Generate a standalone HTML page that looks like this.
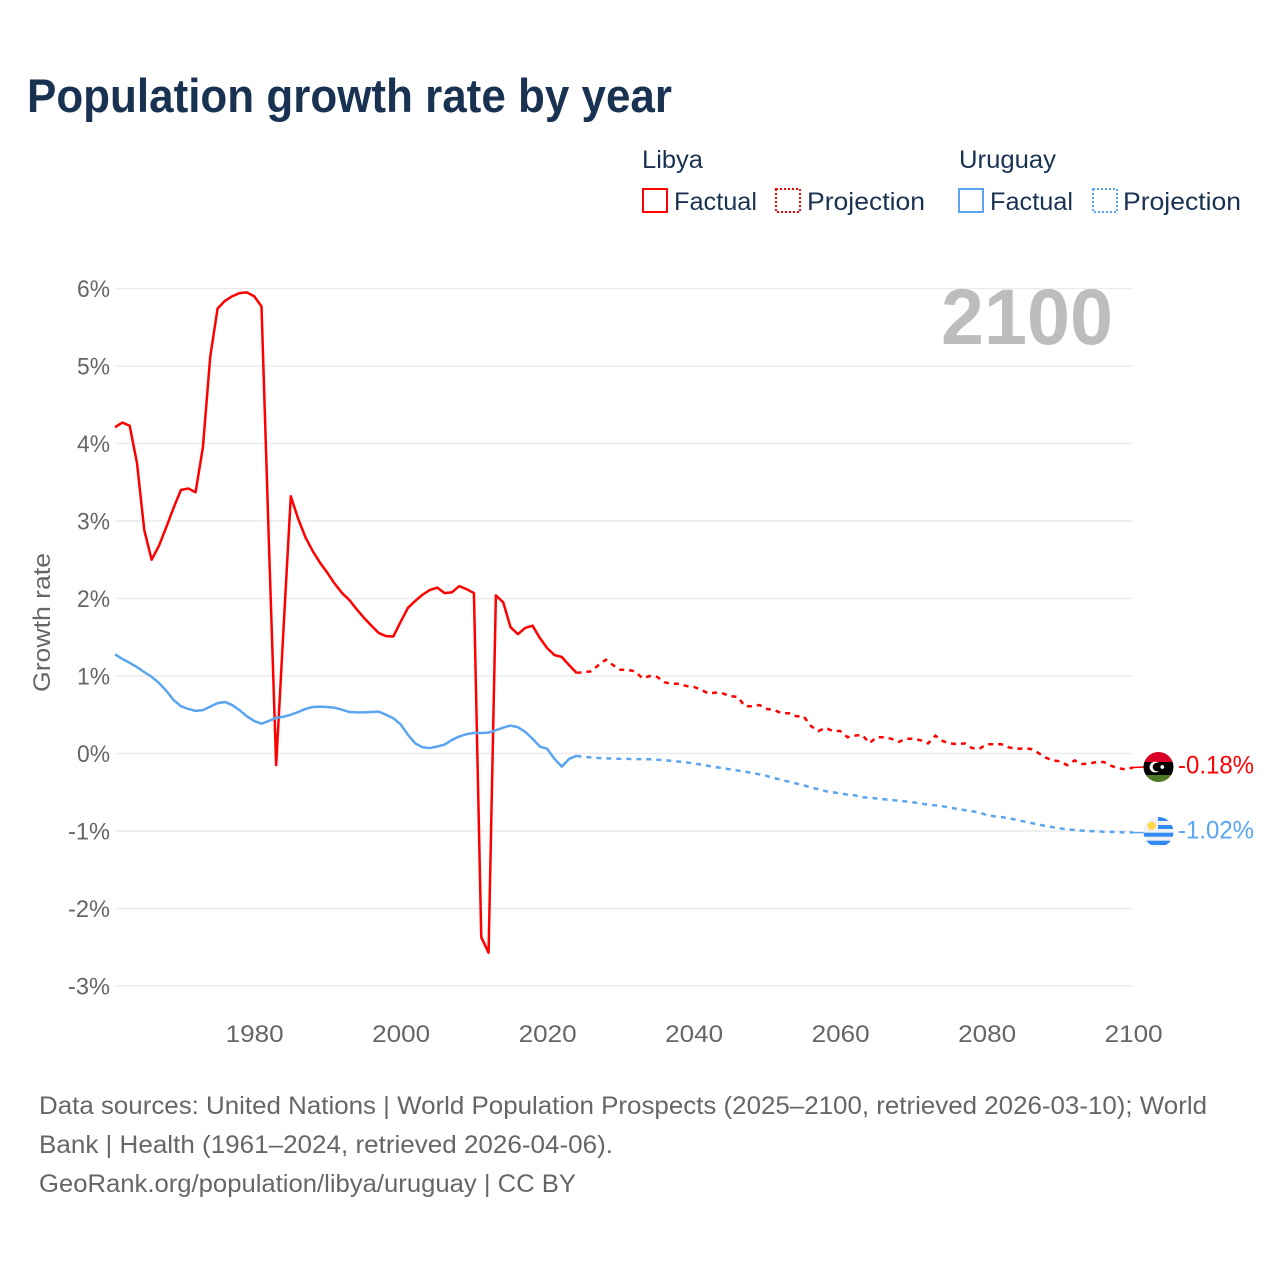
<!DOCTYPE html>
<html lang="en">
<head>
<meta charset="utf-8">
<title>Population growth rate by year</title>
<style>
html,body{margin:0;padding:0;background:#fff;}
svg{display:block;font-family:"Liberation Sans",sans-serif;}
</style>
</head>
<body>
<svg id="chart" xmlns="http://www.w3.org/2000/svg" width="1280" height="1280" viewBox="0 0 1280 1280">
  <rect x="0" y="0" width="1280" height="1280" fill="#ffffff"/>
  <text x="27" y="112" font-size="47" font-weight="700" fill="#1a3252" textLength="645" lengthAdjust="spacingAndGlyphs">Population growth rate by year</text>

  <g font-size="25" fill="#1a3252">
    <text x="642" y="168" textLength="61" lengthAdjust="spacingAndGlyphs">Libya</text>
    <rect x="643" y="189" width="24" height="23" fill="none" stroke="#ff0000" stroke-width="2"/>
    <text x="674" y="210" textLength="83" lengthAdjust="spacingAndGlyphs">Factual</text>
    <rect x="776" y="189" width="24" height="23" fill="none" stroke="#ff0000" stroke-width="2" stroke-dasharray="2 2"/>
    <text x="807" y="210" textLength="118" lengthAdjust="spacingAndGlyphs">Projection</text>
    <text x="959" y="168" textLength="97" lengthAdjust="spacingAndGlyphs">Uruguay</text>
    <rect x="959" y="189" width="24" height="23" fill="none" stroke="#5ba5f0" stroke-width="2"/>
    <text x="990" y="210" textLength="83" lengthAdjust="spacingAndGlyphs">Factual</text>
    <rect x="1093" y="189" width="24" height="23" fill="none" stroke="#5ba5f0" stroke-width="2" stroke-dasharray="2 2"/>
    <text x="1123" y="210" textLength="118" lengthAdjust="spacingAndGlyphs">Projection</text>
  </g>

  <g id="grid"></g>
  <g id="yticks"></g>
  <g id="xticks"></g>
  <text transform="translate(50 622.5) rotate(-90)" text-anchor="middle" font-size="24" fill="#666666" textLength="139" lengthAdjust="spacingAndGlyphs">Growth rate</text>
  <text x="1113" y="344" text-anchor="end" font-size="79" font-weight="700" fill="#bdbdbd" textLength="172" lengthAdjust="spacingAndGlyphs">2100</text>
  <g id="series"></g>

  <defs>
    <clipPath id="flag-clip-libya"><circle cx="1158.5" cy="767" r="15"/></clipPath>
    <clipPath id="flag-clip-uruguay"><circle cx="1158.5" cy="832" r="15"/></clipPath>
  </defs>
  <g clip-path="url(#flag-clip-libya)">
    <rect x="1143" y="751" width="31" height="11" fill="#d80027"/>
    <rect x="1143" y="762" width="31" height="13" fill="#000000"/>
    <rect x="1143" y="775" width="31" height="8" fill="#4f7a28"/>
    <circle cx="1155" cy="767" r="5.4" fill="#ffffff"/>
    <circle cx="1157" cy="767" r="4.3" fill="#000000"/>
    <circle cx="1162.3" cy="767" r="1.9" fill="#ffffff"/>
  </g>
  <g clip-path="url(#flag-clip-uruguay)">
    <rect x="1143" y="816" width="31" height="32" fill="#f0f0f0"/>
    <rect x="1158" y="816.7" width="16" height="4.3" fill="#338af3"/>
    <rect x="1158" y="825" width="16" height="4" fill="#338af3"/>
    <rect x="1143" y="832.7" width="31" height="4" fill="#338af3"/>
    <rect x="1143" y="840.7" width="31" height="4.3" fill="#338af3"/>
    <circle cx="1151.7" cy="825.7" r="4" fill="#ffda44"/>
  </g>
  <text x="1178" y="773.5" font-size="25" fill="#ff0000" textLength="76" lengthAdjust="spacingAndGlyphs">-0.18%</text>
  <text x="1178" y="838.5" font-size="25" fill="#5ba5f0" textLength="76" lengthAdjust="spacingAndGlyphs">-1.02%</text>

  <g font-size="25" fill="#666666">
    <text x="39" y="1114" textLength="1168" lengthAdjust="spacingAndGlyphs">Data sources: United Nations | World Population Prospects (2025–2100, retrieved 2026-03-10); World</text>
    <text x="39" y="1153" textLength="574" lengthAdjust="spacingAndGlyphs">Bank | Health (1961–2024, retrieved 2026-04-06).</text>
    <text x="39" y="1192" textLength="537" lengthAdjust="spacingAndGlyphs">GeoRank.org/population/libya/uruguay | CC BY</text>
  </g>
</svg>
<script>
const factualStartYear = 1961;
const projectionStartYear = 2024;
const yTickValues = [6, 5, 4, 3, 2, 1, 0, -1, -2, -3];
const xTickYears = [1980, 2000, 2020, 2040, 2060, 2080, 2100];
const libyaFactual = [4.21,4.27,4.23,3.75,2.88,2.50,2.68,2.92,3.17,3.40,3.42,3.37,3.95,5.12,5.74,5.84,5.90,5.94,5.95,5.90,5.77,2.75,-0.15,1.60,3.32,3.03,2.79,2.61,2.46,2.33,2.19,2.07,1.98,1.86,1.75,1.65,1.555,1.515,1.51,1.70,1.88,1.97,2.05,2.11,2.14,2.07,2.08,2.16,2.12,2.07,-2.37,-2.57,2.04,1.95,1.63,1.54,1.62,1.65,1.49,1.36,1.27,1.245,1.14,1.04];
const libyaProjection = [1.04,1.05,1.06,1.14,1.21,1.14,1.08,1.08,1.06,0.97,1.00,0.99,0.92,0.90,0.90,0.87,0.86,0.825,0.775,0.785,0.775,0.74,0.73,0.61,0.61,0.625,0.575,0.56,0.52,0.52,0.48,0.48,0.355,0.29,0.33,0.29,0.29,0.21,0.23,0.24,0.135,0.21,0.21,0.19,0.15,0.19,0.19,0.17,0.13,0.23,0.16,0.13,0.12,0.13,0.07,0.06,0.12,0.12,0.12,0.08,0.06,0.065,0.06,0.01,-0.05,-0.09,-0.10,-0.15,-0.09,-0.135,-0.13,-0.11,-0.11,-0.16,-0.19,-0.205,-0.18];
const uruguayFactual = [1.28,1.22,1.17,1.115,1.05,0.99,0.91,0.81,0.69,0.61,0.575,0.55,0.56,0.605,0.65,0.665,0.625,0.56,0.48,0.42,0.385,0.42,0.46,0.475,0.50,0.535,0.575,0.60,0.605,0.60,0.59,0.565,0.535,0.53,0.53,0.535,0.54,0.50,0.455,0.375,0.24,0.13,0.08,0.07,0.09,0.115,0.175,0.22,0.25,0.265,0.265,0.27,0.30,0.335,0.36,0.34,0.28,0.19,0.09,0.06,-0.07,-0.17,-0.07,-0.03];
const uruguayProjection = [-0.03,-0.045,-0.05,-0.058,-0.062,-0.066,-0.07,-0.07,-0.072,-0.073,-0.075,-0.08,-0.086,-0.095,-0.105,-0.115,-0.128,-0.143,-0.16,-0.175,-0.19,-0.205,-0.22,-0.235,-0.25,-0.27,-0.29,-0.316,-0.342,-0.364,-0.387,-0.41,-0.44,-0.46,-0.485,-0.50,-0.515,-0.53,-0.54,-0.565,-0.57,-0.58,-0.59,-0.60,-0.61,-0.62,-0.63,-0.645,-0.66,-0.67,-0.68,-0.70,-0.715,-0.73,-0.745,-0.76,-0.795,-0.81,-0.82,-0.835,-0.855,-0.875,-0.895,-0.915,-0.935,-0.95,-0.965,-0.98,-0.985,-0.995,-1.0,-1.005,-1.01,-1.012,-1.015,-1.018,-1.02];

const NS = 'http://www.w3.org/2000/svg';
const RED = '#ff0000';
const BLUE = '#5ba5f0';
function xScale(year) { return 115 + (year - 1961) * 7.325; }
function yScale(value) { return 753.5 - value * 77.5; }
function pathFrom(values, startYear) {
  return values.map(function (v, i) {
    return (i ? 'L' : 'M') + xScale(startYear + i).toFixed(2) + ' ' + yScale(v).toFixed(2);
  }).join(' ');
}
function make(tag, attrs, parent) {
  const el = document.createElementNS(NS, tag);
  Object.keys(attrs).forEach(function (k) { el.setAttribute(k, attrs[k]); });
  parent.appendChild(el);
  return el;
}
const gridGroup = document.getElementById('grid');
const yTickGroup = document.getElementById('yticks');
const xTickGroup = document.getElementById('xticks');
const seriesGroup = document.getElementById('series');

yTickValues.forEach(function (v) {
  const line = make('line', {x1: 115, x2: 1133, y1: yScale(v), y2: yScale(v), stroke: '#ebebeb', 'stroke-width': 1.5}, gridGroup);
  
  
  const label = make('text', {x: 110, y: yScale(v) + 8.5, 'text-anchor': 'end', 'font-size': 24, fill: '#666666', textLength: v < 0 ? 42 : 33, lengthAdjust: 'spacingAndGlyphs'}, yTickGroup);
  
  
  label.textContent = v + '%';
});
xTickYears.forEach(function (year) {
  const label = make('text', {x: xScale(year) + 0.5, y: 1042, 'text-anchor': 'middle', 'font-size': 24, fill: '#666666', textLength: 58, lengthAdjust: 'spacingAndGlyphs'}, xTickGroup);
  
  
  label.textContent = year;
});

const libyaFactualLine = make('path', {d: pathFrom(libyaFactual, factualStartYear), fill: 'none', stroke: RED, 'stroke-width': 2.5, 'stroke-linejoin': 'round'}, seriesGroup);


const libyaProjectionLine = make('path', {d: pathFrom(libyaProjection, projectionStartYear), fill: 'none', stroke: RED, 'stroke-width': 2.5, 'stroke-dasharray': '5 5'}, seriesGroup);


const uruguayFactualLine = make('path', {d: pathFrom(uruguayFactual, factualStartYear), fill: 'none', stroke: BLUE, 'stroke-width': 2.5, 'stroke-linejoin': 'round'}, seriesGroup);


const uruguayProjectionLine = make('path', {d: pathFrom(uruguayProjection, projectionStartYear), fill: 'none', stroke: BLUE, 'stroke-width': 2.5, 'stroke-dasharray': '5 5'}, seriesGroup);



const libyaEnd = yScale(libyaProjection[libyaProjection.length - 1]);
const uruguayEnd = yScale(uruguayProjection[uruguayProjection.length - 1]);
const libyaConnector = make('line', {x1: 1133, x2: 1144, y1: libyaEnd, y2: libyaEnd - 0.5, stroke: RED, 'stroke-width': 1.5}, seriesGroup);


const uruguayConnector = make('line', {x1: 1133, x2: 1144, y1: uruguayEnd, y2: uruguayEnd, stroke: BLUE, 'stroke-width': 1.5}, seriesGroup);


</script>
</body>
</html>
